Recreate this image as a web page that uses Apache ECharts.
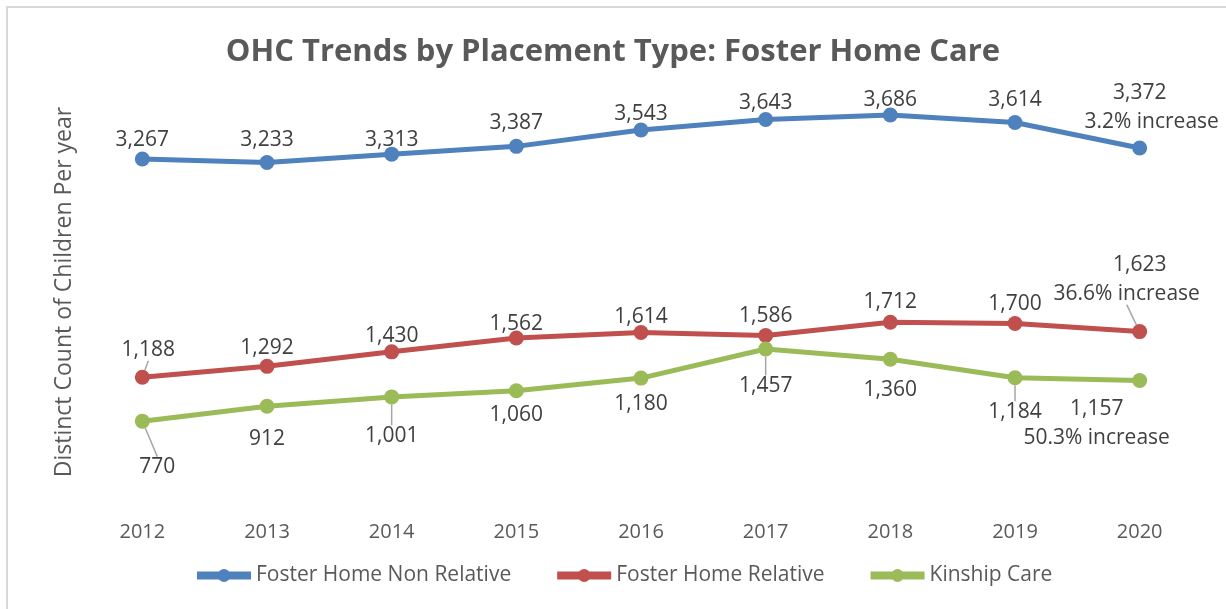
<!DOCTYPE html>
<html>
<head>
<meta charset="utf-8">
<script src="https://cdn.jsdelivr.net/npm/echarts@6/dist/echarts.min.js"></script>
<style>
  html, body { margin: 0; padding: 0; background: #fff; }
  #chart { width: 1226px; height: 609px; }
</style>
</head>
<body>
<div id="chart"></div>
<script>
// data
const years = ["2012", "2013", "2014", "2015", "2016", "2017", "2018", "2019", "2020"];
const nonRelative = [3267, 3233, 3313, 3387, 3543, 3643, 3686, 3614, 3372];
const relative = [1188, 1292, 1430, 1562, 1614, 1586, 1712, 1700, 1623];
const kinship = [770, 912, 1001, 1060, 1180, 1457, 1360, 1184, 1157];
const increaseText = ["3.2% increase", "36.6% increase", "50.3% increase"];

const FONT = "Open Sans";
const TXT = "#404040";
const FUDGE = 3; // text baseline correction for 'inside' labels

// label placement (centre of label relative to the point), [dx, dy, leader]
const blueLbl = [[0, -22], [0, -26], [0, -17], [0, -26], [0, -19], [0, -19], [0, -18], [0, -26], [12, -43]];
const redLbl = [[6, -30, 1], [0, -21], [0, -19], [0, -17], [0, -19], [0, -22], [0, -23], [0, -22], [-13, -55, 1]];
const greenLbl = [[15, 43, 1], [0, 30], [0, 36, 1], [0, 21], [0, 23], [0, 34, 1], [0, 28], [0, 31, 1], [-43, 40]];

function fmt(v) {
  return v.toLocaleString("en-US");
}

function buildData(values, offs, lastText, lastPad) {
  return values.map(function (v, i) {
    let item = {
      value: v,
      labelLine: { show: !!offs[i][2] }
    };
    if (i === values.length - 1) {
      item.label = {
        formatter: "{a|" + fmt(v) + "}\n{b|" + lastText + "}",
        rich: {
          a: { fontFamily: FONT, fontSize: 21, color: TXT, lineHeight: 29, padding: lastPad },
          b: { fontFamily: FONT, fontSize: 21, color: TXT, lineHeight: 29 }
        }
      };
    }
    return item;
  });
}

function makeSeries(name, color, values, offs, lastText, lastPad) {
  return {
    name: name,
    type: "line",
    data: buildData(values, offs, lastText, lastPad),
    symbol: "circle",
    symbolSize: 15,
    lineStyle: { color: color, width: 5 },
    itemStyle: { color: color },
    label: {
      show: true,
      position: "inside",
      fontFamily: FONT,
      fontSize: 21,
      color: TXT,
      formatter: function (p) { return fmt(p.value); }
    },
    labelLayout: function (p) {
      let o = offs[p.dataIndex];
      return { dx: o[0], dy: o[1] + FUDGE };
    },
    labelLine: {
      lineStyle: { color: "#a6a6a6", width: 1.5 }
    },
    emphasis: { disabled: true },
    z: 2
  };
}

const chart = echarts.init(document.getElementById("chart"), null, { renderer: "canvas" });

chart.setOption({
  backgroundColor: "#fff",
  animation: false,
  title: {
    text: "OHC Trends by Placement Type: Foster Home Care",
    left: "center",
    top: 32,
    textStyle: { fontFamily: FONT, fontSize: 31, fontWeight: "bold", color: "#595959" }
  },
  grid: { left: 80, right: 24, top: 82, bottom: 107 },
  xAxis: {
    type: "category",
    data: years,
    axisLine: { show: false },
    axisTick: { show: false },
    axisLabel: { fontFamily: FONT, fontSize: 20, color: "#595959", margin: 20 }
  },
  yAxis: {
    type: "value",
    min: 0,
    max: 4000,
    name: "Distinct Count of Children Per year",
    nameLocation: "middle",
    nameGap: 4,
    nameTextStyle: { fontFamily: FONT, fontSize: 23, color: "#595959" },
    axisLabel: { show: false },
    axisLine: { show: false },
    axisTick: { show: false },
    splitLine: { show: false }
  },
  legend: {
    bottom: 18,
    left: 188,
    itemWidth: 54,
    itemHeight: 16,
    itemGap: 42,
    lineStyle: { width: 8 },
    textStyle: { fontFamily: FONT, fontSize: 21, color: "#595959" },
    data: ["Foster Home Non Relative", "Foster Home Relative", "Kinship Care"]
  },
  graphic: [{
    type: "rect",
    shape: { x: 7, y: 7, width: 1400, height: 800 },
    style: { fill: "none", stroke: "#d9d9d9", lineWidth: 2 },
    silent: true
  }],
  series: [
    makeSeries("Foster Home Non Relative", "#4f81bd", nonRelative, blueLbl, increaseText[0], [0, 24, 0, 0]),
    makeSeries("Foster Home Relative", "#c0504d", relative, redLbl, increaseText[1], [0, 0, 0, 26]),
    makeSeries("Kinship Care", "#9bbb59", kinship, greenLbl, increaseText[2], [0, 0, 0, 0])
  ]
});
</script>
</body>
</html>
